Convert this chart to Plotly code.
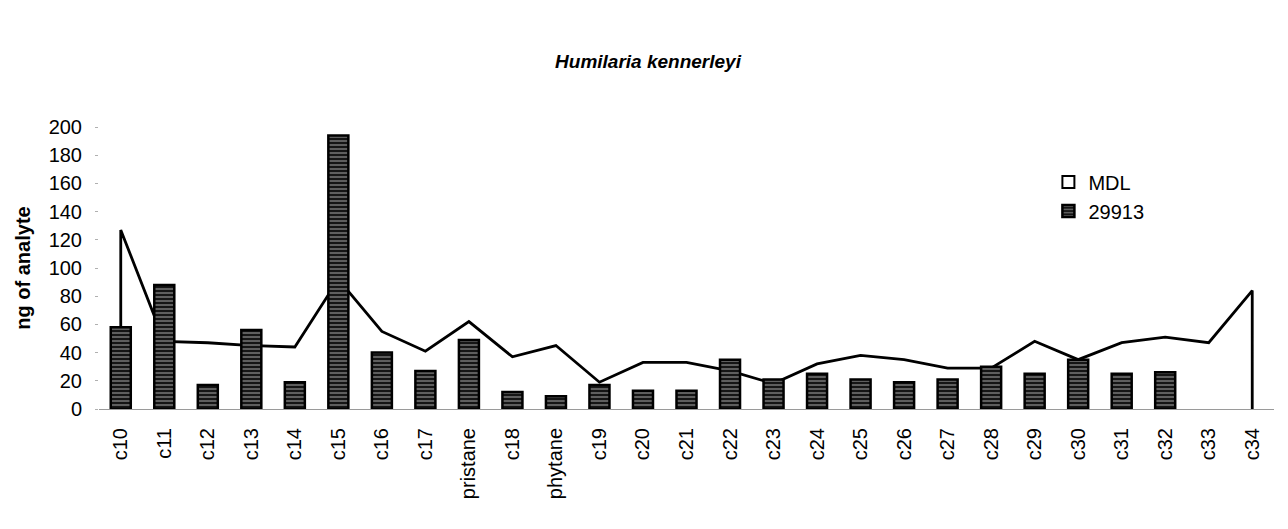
import plotly.graph_objects as go

# Data
categories = ["c10", "c11", "c12", "c13", "c14", "c15", "c16", "c17", "pristane",
              "c18", "phytane", "c19", "c20", "c21", "c22", "c23", "c24", "c25",
              "c26", "c27", "c28", "c29", "c30", "c31", "c32", "c33", "c34"]
mdl = [127, 48, 47, 45, 44, 92, 55, 41, 62,
       37, 45, 19, 33, 33, 27, 18, 32, 38,
       35, 29, 29, 48, 35, 47, 51, 47, 84]
# c33 / c34 not detected -> no bar
sample_29913 = [58, 88, 17, 56, 19, 194, 40, 27, 49,
                12, 9, 17, 13, 13, 35, 21, 25, 21,
                19, 21, 30, 25, 35, 25, 26, None, None]
y_ticks = [0, 20, 40, 60, 80, 100, 120, 140, 160, 180, 200]

FONT = "Liberation Sans, Arial, sans-serif"

# MDL is an Excel-style area: close the outline down to zero at both ends
area_x = [categories[0]] + categories + [categories[-1]]
area_y = [0] + mdl + [0]

fig = go.Figure()

fig.add_trace(go.Scatter(
    x=area_x, y=area_y, name="MDL", mode="lines",
    fill="toself", fillcolor="white",
    line=dict(color="black", width=2.8),
    showlegend=False, yaxis="y",
))

# legend swatch for MDL (white box, like the Excel area legend)
fig.add_trace(go.Bar(
    x=[None], y=[None], name="MDL",
    marker=dict(color="white", line=dict(color="black", width=2)),
    legendrank=1, yaxis="y",
))

fig.add_trace(go.Bar(
    x=categories, y=sample_29913, name="29913",
    marker=dict(
        color="#151515",
        line=dict(color="black", width=2.5),
        pattern=dict(shape="-", fgcolor="#e6e6e6", bgcolor="#151515",
                     size=4, solidity=0.35),
    ),
    legendrank=2, yaxis="y2",
))

yaxis_common = dict(range=[0, 200], tickvals=y_ticks, fixedrange=True)

# page body has an 8px margin, so the figure is a bit smaller than the window
fig.update_layout(
    width=1280, height=521,
    paper_bgcolor="white", plot_bgcolor="white",
    font=dict(family=FONT, size=20, color="black"),
    margin=dict(l=91, r=14, t=119, b=120),
    title=dict(text="<b><i>Humilaria kennerleyi</i></b>", x=0.5, xanchor="center",
               y=0.898, yanchor="middle", font=dict(size=19)),
    bargap=0.54, barmode="overlay",
    showlegend=True,
    legend=dict(x=0.808, y=0.874, xanchor="left", yanchor="top",
                bgcolor="rgba(0,0,0,0)", font=dict(size=20),
                traceorder="normal"),
    xaxis=dict(type="category", categoryorder="array", categoryarray=categories,
               tickangle=-90, showline=True, linecolor="#9a9a9a", linewidth=1,
               showgrid=False, ticks="", ticklabelstandoff=10,
               tickfont=dict(size=20)),
    yaxis=dict(**yaxis_common, showgrid=False, zeroline=False, showline=False,
               ticks="outside", ticklen=3, tickcolor="#b0b0b0",
               ticklabelstandoff=9, tickfont=dict(size=20),
               title=dict(text="<b>ng of analyte</b>", font=dict(size=20), standoff=12)),
    yaxis2=dict(**yaxis_common, overlaying="y", visible=False),
)

fig.write_html("out.html")
